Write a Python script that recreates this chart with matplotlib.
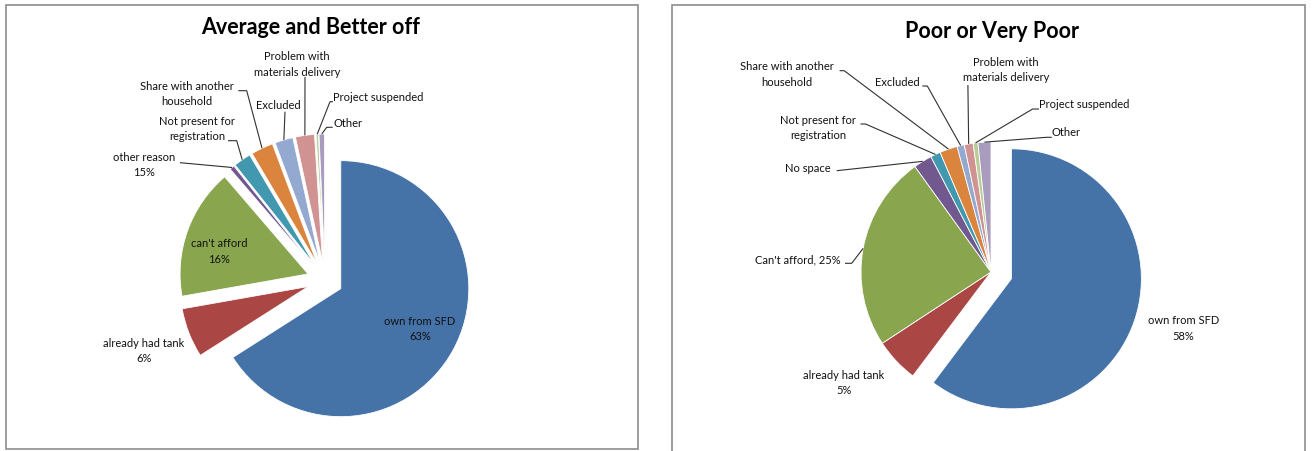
import numpy as np
import matplotlib
matplotlib.use("Agg")
import matplotlib.pyplot as plt
from matplotlib.patches import Rectangle

plt.rcParams['font.family'] = ['Lato', 'DejaVu Sans']

W, H = 1315, 451

colors = ['#4572A7', '#AA4643', '#89A54E', '#71588F', '#4198AF',
          '#DB843D', '#93A9CF', '#D19392', '#B9CD96', '#A99BBD']

# Average and Better off
left_title = 'Average and Better off'
left_names = ['own from SFD', 'already had tank', "can't afford", 'other reason',
              'Not present for\nregistration', 'Share with another\nhousehold',
              'Excluded', 'Problem with\nmaterials delivery', 'Project suspended', 'Other']
left_values = [66.0, 6.25, 16.5, 0.6, 2.2, 2.8, 2.3, 2.4, 0.3, 0.7]
left_pct = ['63%', '6%', '16%', '15%', '', '', '', '', '', '']

# Poor or Very Poor
right_title = 'Poor or Very Poor'
right_names = ['own from SFD', 'already had tank', "Can't afford, 25%", 'No space',
               'Not present for\nregistration', 'Share with another\nhousehold',
               'Excluded', 'Problem with\nmaterials delivery', 'Project suspended', 'Other']
right_values = [60.3, 5.5, 24.3, 2.3, 1.25, 2.2, 0.9, 1.1, 0.6, 1.6]
right_pct = ['58%', '5%', '', '', '', '', '', '', '', '']

# label placement in image pixels: (x, y, ha, leader waypoints)
left_layout = [
    (420, 329, 'center', None),
    (144, 351, 'center', None),
    (219, 251.5, 'center', None),
    (144, 165, 'center', [(180, 162.7)]),
    (197, 129, 'center', [(228, 140.7), (236.7, 140.7)]),
    (187, 94, 'center', [(238.3, 90.7), (246.7, 90.7)]),
    (278.3, 105.7, 'center', [(285, 111.7)]),
    (296.7, 64.5, 'center', [(305, 77)]),
    (333.3, 97.3, 'left', [(333, 101.7), (330, 101.7)]),
    (333.3, 123.3, 'left', [(332.7, 127.3), (326.7, 127.3)]),
]
right_layout = [
    (1183.4, 328.5, 'center', None),
    (843.8, 383.3, 'center', None),
    (797.8, 259.7, 'center', [(845, 263.3), (851.7, 263.3)]),
    (808.3, 168, 'center', [(836.7, 170.7)]),
    (817.9, 128.3, 'center', [(860.5, 124), (865.5, 124)]),
    (786.6, 74.5, 'center', [(839.6, 70.7), (844.2, 70.7)]),
    (897.3, 83, 'center', [(922.3, 86), (927.3, 86)]),
    (1005.9, 69.8, 'center', [(967.9, 85)]),
    (1039.3, 104.7, 'left', [(1039, 109), (1032.6, 109)]),
    (1051.8, 133, 'left', [(1051.8, 137.3), (1046.4, 137.3)]),
]


def draw_panel(ax, box, title, title_xy, values, names, pct, layout,
               center, radius, explode):
    x0, y0, x1, y1 = box
    ax.add_patch(Rectangle((x0, H - y1), x1 - x0, y1 - y0, fill=False,
                           edgecolor='#8c8c8c', linewidth=1.2))
    ax.text(title_xy[0], H - title_xy[1], title, ha='center', va='center',
            fontsize=15.5, fontweight='bold', color='black')

    # explode is in axis units here (pixels), not a fraction of the radius
    wedges, _ = ax.pie(values, colors=colors, explode=explode, startangle=90,
                       counterclock=False, center=(center[0], H - center[1]),
                       radius=radius, frame=True,
                       wedgeprops=dict(edgecolor='white', linewidth=0.6))

    for w, name, p, (tx, ty, ha, leader) in zip(wedges, names, pct, layout):
        label = name + ('\n' + p if p else '')
        ax.text(tx, H - ty, label, ha=ha, va='center', fontsize=8,
                linespacing=1.45, color='#111111', multialignment='center')
        if leader:
            ang = np.deg2rad((w.theta1 + w.theta2) / 2)
            end = (w.center[0] + w.r * np.cos(ang), w.center[1] + w.r * np.sin(ang))
            xs = [pt[0] for pt in leader] + [end[0]]
            ys = [H - pt[1] for pt in leader] + [end[1]]
            ax.plot(xs, ys, color='#303030', linewidth=0.8, solid_capstyle='butt')


fig = plt.figure(figsize=(W / 100, H / 100), dpi=100)
ax = fig.add_axes([0, 0, 1, 1])

draw_panel(ax, (6, 5, 638, 449), left_title, (311, 27), left_values,
           left_names, left_pct, left_layout, (325, 280), 128,
           [18] * len(left_values))
draw_panel(ax, (672, 5, 1305, 470), right_title, (992, 32), right_values,
           right_names, right_pct, right_layout, (991, 272), 130,
           [21.5] + [0] * (len(right_values) - 1))

ax.set_xlim(0, W)
ax.set_ylim(0, H)
ax.set_aspect('auto')
ax.axis('off')

fig.savefig('out.png', dpi=100, facecolor='white')
